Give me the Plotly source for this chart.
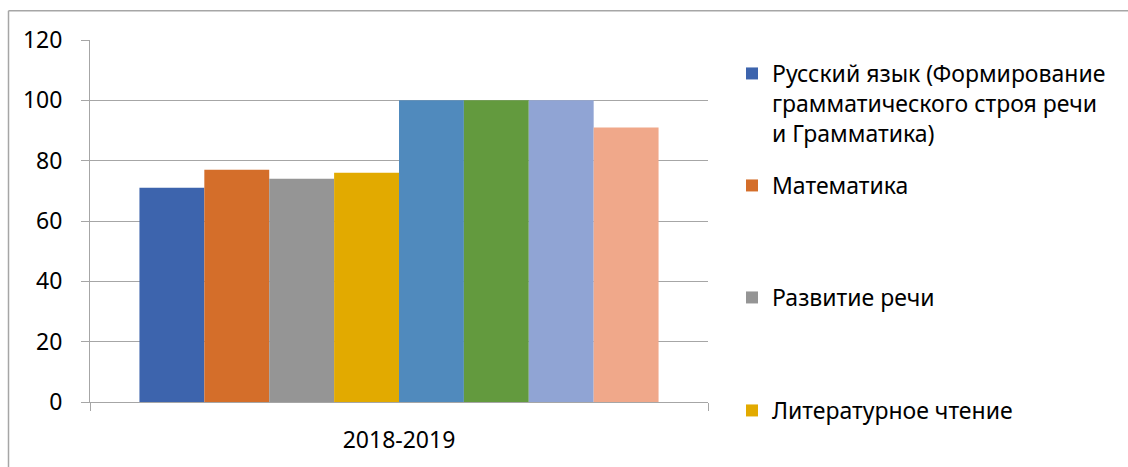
import plotly.graph_objects as go

categories = ["2018-2019"]
series_names = [
    "Русский язык (Формирование<br>грамматического строя речи<br>и Грамматика)",
    "Математика",
    "Развитие речи",
    "Литературное чтение",
    "Окружающий мир",
    "Музыка",
    "ИЗО",
    "Технология",
]
series_values = [71, 77, 74, 76, 100, 100, 100, 91]
series_colors = ["#3D64AD", "#D46E2A", "#959595", "#E2AA00",
                 "#508ABD", "#639A3E", "#90A4D4", "#F0A88A"]
legend_shown = [True, True, True, True, False, False, False, False]
y_ticks = [0, 20, 40, 60, 80, 100, 120]

W, H = 1128, 467
L, R, T, B = 90, 708, 40, 405

fig = go.Figure()
legend_keys = ["legend", "legend2", "legend3", "legend4"]
for i, (name, val, col, show) in enumerate(zip(series_names, series_values, series_colors, legend_shown)):
    fig.add_trace(go.Bar(
        x=categories, y=[val], name=name, marker=dict(color=col, line=dict(width=0)),
        showlegend=show,
        legend=legend_keys[i] if i < 4 else "legend",
    ))

font = dict(family="Noto Sans, Open Sans, sans-serif", size=23, color="#000000")
leg_common = dict(
    xref="container", yref="container", x=732 / W, xanchor="left", yanchor="top",
    font=font, bgcolor="rgba(0,0,0,0)", borderwidth=0, valign="top",
    itemsizing="constant", itemwidth=30, traceorder="normal",
)
leg_tops = [52, 164, 276, 389]
layout_legs = {}
for k, top in zip(legend_keys, leg_tops):
    d = dict(leg_common)
    d["y"] = 1 - top / H
    layout_legs[k] = d

fig.update_layout(
    width=W, height=H,
    margin=dict(l=L, r=W - R, t=T, b=H - B),
    paper_bgcolor="white", plot_bgcolor="white",
    barmode="group", bargap=0.16, bargroupgap=0,
    font=font,
    xaxis=dict(
        type="category", showgrid=False, showline=True, linecolor="#A6A6A6", linewidth=1,
        ticks="outside", tickson="boundaries", ticklen=8, tickcolor="#A6A6A6",
        tickfont=font, ticklabelstandoff=17,
    ),
    yaxis=dict(
        range=[0, 120], tickvals=y_ticks, showgrid=True, gridcolor="#A6A6A6", gridwidth=1,
        showline=True, linecolor="#A6A6A6", linewidth=1, zeroline=False,
        ticks="outside", ticklen=8, tickcolor="#A6A6A6", tickfont=font, ticklabelstandoff=14,
    ),
    **layout_legs,
)

# outer chart frame (extends past right and bottom edges)
pw = R - L
ph = B - T
def px_to_paper_x(px):
    return (px - L) / pw
def px_to_paper_y(py):
    return (B - py) / ph

fig.add_shape(type="line", xref="paper", yref="paper",
              x0=px_to_paper_x(8.5), x1=px_to_paper_x(8.5),
              y0=px_to_paper_y(10.5), y1=px_to_paper_y(480),
              line=dict(color="#A6A6A6", width=1.5))
fig.add_shape(type="line", xref="paper", yref="paper",
              x0=px_to_paper_x(8.5), x1=px_to_paper_x(1140),
              y0=px_to_paper_y(10.5), y1=px_to_paper_y(10.5),
              line=dict(color="#A6A6A6", width=1.5))

fig.write_html("out.html", config={"displayModeBar": False},
               post_script="document.body.style.margin='0';document.body.style.overflow='hidden';")
